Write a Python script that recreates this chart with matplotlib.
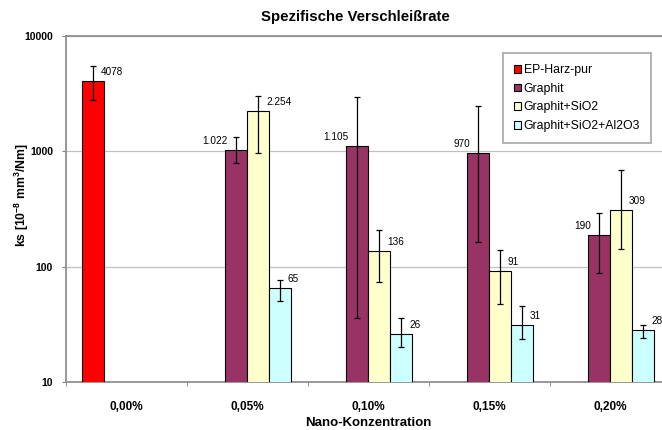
import numpy as np
import matplotlib
matplotlib.use('Agg')
import matplotlib.pyplot as plt

plt.rcParams['font.family'] = ['Liberation Sans', 'DejaVu Sans']
plt.rcParams['mathtext.fontset'] = 'custom'
plt.rcParams['mathtext.rm'] = 'Liberation Sans:bold'
plt.rcParams['mathtext.bf'] = 'Liberation Sans:bold'
plt.rcParams['mathtext.default'] = 'bf'

# Data
categories = ['0,00%', '0,05%', '0,10%', '0,15%', '0,20%']
series = ['EP-Harz-pur', 'Graphit', 'Graphit+SiO2', 'Graphit+SiO2+Al2O3']
colors = ['#FF0000', '#993366', '#FFFFCC', '#CCFFFF']

ep = [4078, np.nan, np.nan, np.nan, np.nan]
ep_lo = [1305, 0, 0, 0, 0]
ep_hi = [1374, 0, 0, 0, 0]
ep_txt = ['4078', '', '', '', '']

graphit = [np.nan, 1022, 1105, 970, 190]
graphit_lo = [0, 224, 1069, 805, 101]
graphit_hi = [0, 321, 1860, 1480, 103]
graphit_txt = ['', '1.022', '1.105', '970', '190']

sio2 = [np.nan, 2254, 136, 91, 309]
sio2_lo = [0, 1293, 63, 44, 166]
sio2_hi = [0, 773, 74, 49, 378]
sio2_txt = ['', '2.254', '136', '91', '309']

al2o3 = [np.nan, 65, 26, 31, 28]
al2o3_lo = [0, 15, 6, 7.5, 4]
al2o3_hi = [0, 12, 10, 14.5, 3.1]
al2o3_txt = ['', '65', '26', '31', '28']

values = [ep, graphit, sio2, al2o3]
lows = [ep_lo, graphit_lo, sio2_lo, al2o3_lo]
highs = [ep_hi, graphit_hi, sio2_hi, al2o3_hi]
texts = [ep_txt, graphit_txt, sio2_txt, al2o3_txt]
label_side = [1, -1, 1, 1]   # label right (+1) or left (-1) of the bar

fig = plt.figure(figsize=(6.62, 4.30), dpi=100)
ax = fig.add_axes([65.5 / 662, 48 / 430, 605 / 662, 346 / 430])

x = np.arange(len(categories))
w = 1 / 5.5
for i in range(4):
    pos = x + (i - 1.5) * w
    v = np.array(values[i], dtype=float)
    ax.bar(pos, v, width=w, color=colors[i], edgecolor='black',
           linewidth=0.8, label=series[i], zorder=3)
    mask = ~np.isnan(v)
    ax.errorbar(pos[mask], v[mask],
                yerr=[np.array(lows[i])[mask], np.array(highs[i])[mask]],
                fmt='none', ecolor='black', elinewidth=0.9, capsize=2.5,
                capthick=0.9, zorder=4)
    for p, val, t in zip(pos, v, texts[i]):
        if t:
            s = label_side[i]
            ax.annotate(t, (p, val), xytext=(8 * s, 9), textcoords='offset pixels',
                        ha='left' if s > 0 else 'right', va='center',
                        fontsize=7.2, zorder=5)

ax.set_yscale('log')
ax.set_ylim(10, 10000)
ax.set_xlim(-0.5, len(categories) - 0.5)
ax.set_yticks([10, 100, 1000, 10000])
ax.set_yticklabels(['10', '100', '1000', '10000'], fontweight='bold', fontsize=7.5)
ax.yaxis.set_minor_locator(matplotlib.ticker.NullLocator())
ax.grid(axis='y', which='major', color='#C0C0C0', linewidth=0.9, zorder=0)

ax.set_xticks(x)
ax.set_xticklabels(categories, fontweight='bold', fontsize=8.5)
ax.set_xticks(np.arange(-0.5, len(categories)), minor=True)
ax.tick_params(axis='x', which='major', length=0, pad=14)
ax.tick_params(axis='x', which='minor', length=3, color='#808080', direction='out')
ax.tick_params(axis='y', which='major', length=3, color='#808080', pad=6)

for side in ['left', 'bottom', 'top']:
    ax.spines[side].set_color('#909090')
    ax.spines[side].set_linewidth(1.3)
ax.spines['right'].set_visible(False)

ax.set_xlabel('Nano-Konzentration', fontweight='bold', fontsize=9.5)
ax.xaxis.set_label_coords(0.5, -0.1)
ax.set_ylabel('ks [10$^{-8}$ mm$^{3}$/Nm]', fontweight='bold', fontsize=8.8)
ax.yaxis.set_label_coords(-0.057, 0.54)

fig.text(355 / 662, 1 - 17 / 430, 'Spezifische Verschleißrate', ha='center',
         va='center', fontweight='bold', fontsize=10.8)

leg = fig.legend(loc='upper left', bbox_to_anchor=(503 / 662, 1 - 53 / 430),
                 fontsize=8.8, frameon=True, fancybox=False, handlelength=0.6,
                 handleheight=0.6, handletextpad=0.2, labelspacing=0.55,
                 borderpad=0.9, borderaxespad=0)
leg.get_frame().set_edgecolor('#909090')
leg.get_frame().set_linewidth(1.2)

fig.savefig('out.png', dpi=100)
